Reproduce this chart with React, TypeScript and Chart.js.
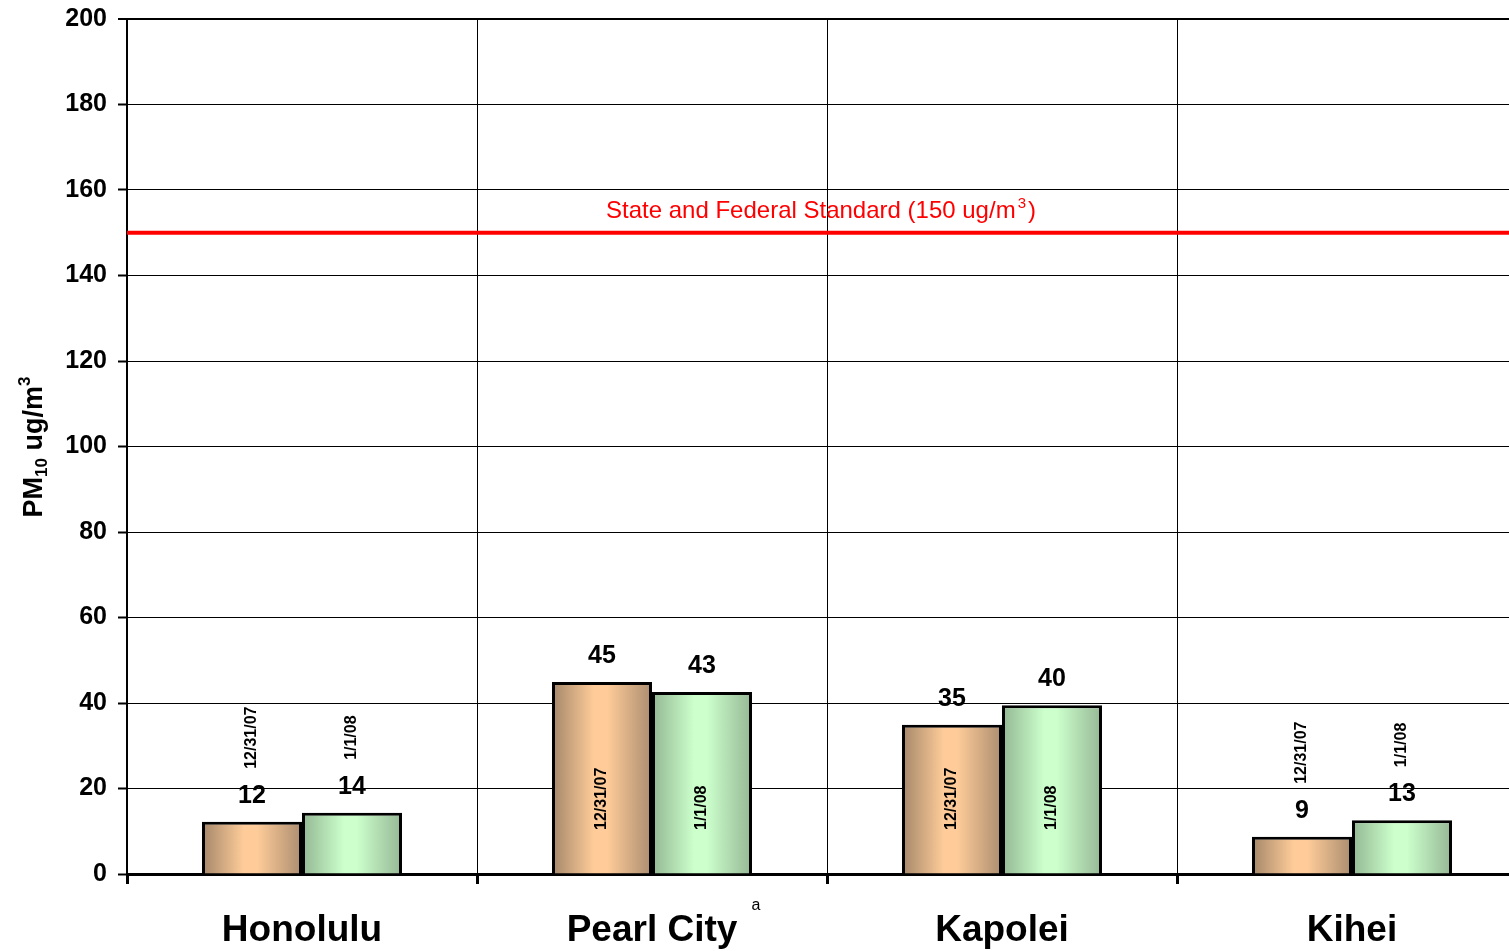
import React, { useEffect, useRef } from "react";
import { Chart, registerables } from "chart.js";

Chart.register(...registerables);

const categories = ["Honolulu", "Pearl City", "Kapolei", "Kihei"];
const dateLabels = ["12/31/07", "1/1/08"];
const dec31Values = [12.2, 44.9, 34.9, 8.7];
const jan1Values = [14.3, 42.6, 39.5, 12.6];
const yMin = 0;
const yMax = 200;
const yStep = 20;
const standardValue = 150;
const standardText = "State and Federal Standard (150 ug/m";
const footnoteCategory = "Pearl City";

const FONT = "'Liberation Sans', Arial, Helvetica, sans-serif";
const CAT_PCT = 200 / 350;

const gradStops = [
  ["#a4876a", "#ffcc99", "#ffcc99", "#ab8d70"],
  ["#93b793", "#ccffcc", "#ccffcc", "#95b795"],
];

function barFill(ctx: any) {
  const chart = ctx.chart;
  const di = ctx.datasetIndex;
  const base = gradStops[di][1];
  if (!chart.chartArea || ctx.type !== "data") return base;
  const xs = chart.scales.x;
  const center = xs.getPixelForValue(ctx.dataIndex);
  const catW = xs.width / categories.length;
  const barW = (catW * CAT_PCT) / 2;
  const left = center - barW + di * barW;
  const g = chart.ctx.createLinearGradient(left, 0, left + barW, 0);
  const s = gradStops[di];
  g.addColorStop(0, s[0]);
  g.addColorStop(0.42, s[1]);
  g.addColorStop(0.55, s[2]);
  g.addColorStop(1, s[3]);
  return g;
}

const customPlugin = {
  id: "customDraw",
  afterDatasetsDraw(chart: any) {
    const { ctx, chartArea, scales } = chart;
    const ys = scales.y;
    const yStd = ys.getPixelForValue(standardValue);
    ctx.save();
    ctx.strokeStyle = "#ff0000";
    ctx.lineWidth = 4;
    ctx.beginPath();
    ctx.moveTo(chartArea.left, yStd);
    ctx.lineTo(chartArea.right, yStd);
    ctx.stroke();
    ctx.fillStyle = "#ff0000";
    ctx.textBaseline = "alphabetic";
    ctx.font = `24px ${FONT}`;
    const w1 = ctx.measureText(standardText).width;
    ctx.font = `15px ${FONT}`;
    const w2 = ctx.measureText("3").width;
    ctx.font = `24px ${FONT}`;
    const w3 = ctx.measureText(")").width;
    const total = w1 + 2 + w2 + 2 + w3;
    const cx = (chartArea.left + chartArea.right) / 2 - 6;
    let x = cx - total / 2;
    const by = yStd - 15;
    ctx.textAlign = "left";
    ctx.fillText(standardText, x, by);
    x += w1 + 2;
    ctx.font = `15px ${FONT}`;
    ctx.fillText("3", x, by - 10);
    x += w2 + 2;
    ctx.font = `24px ${FONT}`;
    ctx.fillText(")", x, by);

    const y0 = ys.getPixelForValue(0);
    chart.data.datasets.forEach((ds: any, di: number) => {
      const meta = chart.getDatasetMeta(di);
      meta.data.forEach((el: any, i: number) => {
        const v = ds.data[i];
        const top = el.y;
        ctx.fillStyle = "#000";
        ctx.font = `bold 25px ${FONT}`;
        ctx.textAlign = "center";
        ctx.textBaseline = "alphabetic";
        ctx.fillText(String(Math.round(v)), el.x, top - 19);
        ctx.save();
        ctx.font = `bold 16px ${FONT}`;
        ctx.textBaseline = "middle";
        ctx.textAlign = "left";
        const inside = y0 - top > 100;
        const startY = inside ? y0 - 44 : top - 53;
        ctx.translate(el.x, startY);
        ctx.rotate(-Math.PI / 2);
        ctx.fillText(dateLabels[di], 0, 0);
        ctx.restore();
      });
    });
    ctx.restore();
  },
  afterDraw(chart: any) {
    const { ctx, chartArea, scales } = chart;
    ctx.save();
    const parts = [
      { t: "PM", f: `bold 27px ${FONT}`, dy: 0 },
      { t: "10", f: `bold 17px ${FONT}`, dy: 5 },
      { t: " ug/m", f: `bold 27px ${FONT}`, dy: 0 },
      { t: "3", f: `bold 17px ${FONT}`, dy: -12 },
    ];
    let total = 0;
    const widths = parts.map((p) => {
      ctx.font = p.f;
      const w = ctx.measureText(p.t).width;
      total += w;
      return w;
    });
    ctx.translate(42, 447);
    ctx.rotate(-Math.PI / 2);
    ctx.fillStyle = "#000";
    ctx.textAlign = "left";
    ctx.textBaseline = "alphabetic";
    let x = -total / 2;
    parts.forEach((p, i) => {
      ctx.font = p.f;
      ctx.fillText(p.t, x, p.dy);
      x += widths[i];
    });
    ctx.restore();
    const xs = scales.x;
    const idx = categories.indexOf(footnoteCategory);
    ctx.save();
    ctx.font = `16px ${FONT}`;
    ctx.fillStyle = "#000";
    ctx.textAlign = "center";
    ctx.textBaseline = "middle";
    ctx.fillText("a", xs.getPixelForValue(idx) + 104, chartArea.bottom + 32);
    ctx.restore();
  },
};

export default function App() {
  const ref = useRef<HTMLCanvasElement>(null);
  useEffect(() => {
    if (!ref.current) return;
    const chart = new Chart(ref.current, {
      type: "bar",
      data: {
        labels: categories,
        datasets: [
          {
            label: dateLabels[0],
            data: dec31Values,
            backgroundColor: barFill,
            borderColor: "#000",
            borderWidth: 3,
            categoryPercentage: CAT_PCT,
            barPercentage: 1,
          },
          {
            label: dateLabels[1],
            data: jan1Values,
            backgroundColor: barFill,
            borderColor: "#000",
            borderWidth: 3,
            categoryPercentage: CAT_PCT,
            barPercentage: 1,
          },
        ],
      },
      options: {
        responsive: false,
        animation: false,
        layout: { padding: { top: 19, left: 0, right: 3, bottom: 0 } },
        plugins: { legend: { display: false }, tooltip: { enabled: false } },
        scales: {
          x: {
            grid: {
              offset: true,
              color: "#000",
              lineWidth: 1,
              tickLength: 10,
              tickWidth: 3,
              tickColor: "#000",
            },
            border: { display: true, color: "#000", width: 3 },
            ticks: {
              color: "#000",
              font: { family: FONT, size: 37, weight: "bold" },
              padding: 25,
              maxRotation: 0,
            },
            afterFit: (s: any) => {
              s.height = 77;
              s.paddingLeft = 0;
              s.paddingRight = 0;
            },
          },
          y: {
            min: yMin,
            max: yMax,
            ticks: {
              stepSize: yStep,
              color: "#000",
              font: { family: FONT, size: 25, weight: "bold" },
              padding: 11,
            },
            grid: {
              color: "#000",
              lineWidth: (c: any) => (c.tick && c.tick.value === yMax ? 2 : 1),
              tickLength: 9,
              tickWidth: 2,
              tickColor: "#000",
            },
            border: { display: true, color: "#000", width: 2 },
            afterFit: (s: any) => {
              s.width = 127;
              s.paddingTop = 0;
              s.paddingBottom = 0;
            },
          },
        },
      },
      plugins: [customPlugin],
    });
    return () => chart.destroy();
  }, []);
  return (
    <div
      style={{
        position: "absolute",
        left: 0,
        top: 0,
        width: 1509,
        height: 951,
        overflow: "hidden",
        background: "#fff",
      }}
    >
      <canvas ref={ref} width={1530} height={951} style={{ display: "block" }} />
    </div>
  );
}
